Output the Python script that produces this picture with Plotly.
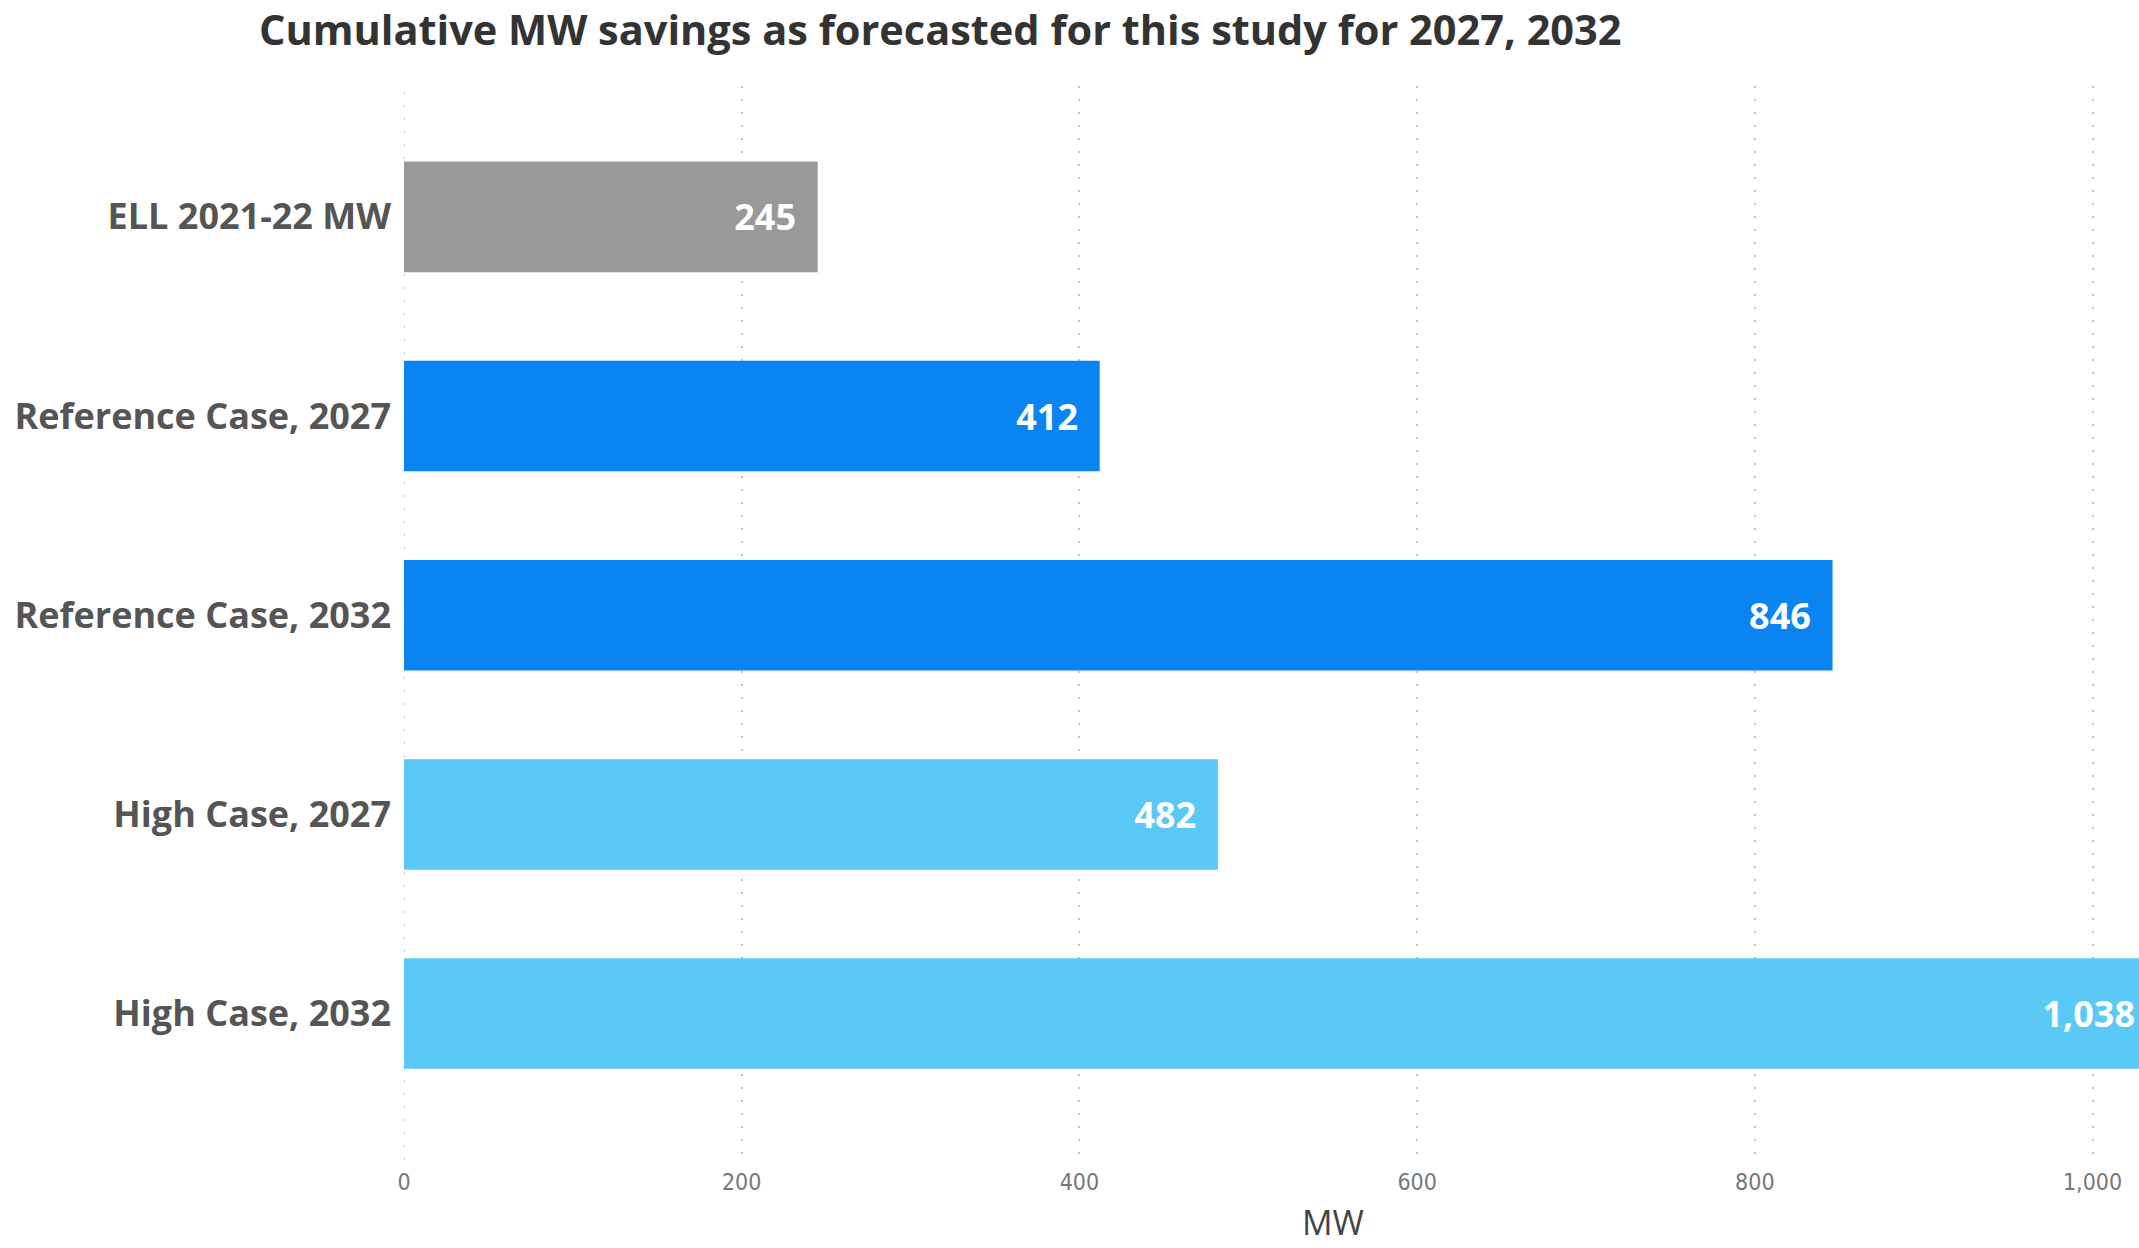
import plotly.graph_objects as go

# Savings cases and their cumulative MW values
categories = [
    "ELL 2021-22 MW",
    "Reference Case, 2027",
    "Reference Case, 2032",
    "High Case, 2027",
    "High Case, 2032",
]
mw_values = [245, 412, 846, 482, 1038]
bar_colors = ["#999999", "#0984F1", "#0984F1", "#5BC9F5", "#5BC9F5"]
x_ticks = [0, 200, 400, 600, 800, 1000]
x_tick_labels = ["0", "200", "400", "600", "800", "1,000"]
x_axis_title = "MW"

W, H = 2139, 1248
label_font = "'Open Sans', Lato, sans-serif"
narrow_font = "'Liberation Sans Narrow', 'DejaVu Sans Condensed', sans-serif"
grid_color = "#c4c4c4"
grid_dash = "2px,11px"

fig = go.Figure(
    go.Bar(
        x=mw_values,
        y=categories,
        orientation="h",
        marker=dict(color=bar_colors, line=dict(width=0)),
        texttemplate="<b>%{x:,.0f}</b>\u00a0\u00a0",
        textposition="inside",
        insidetextanchor="end",
        textangle=0,
        insidetextfont=dict(family=label_font, size=36, color="white"),
        cliponaxis=True,
        hoverinfo="skip",
    )
)

fig.update_layout(
    width=W,
    height=H,
    margin=dict(l=404, r=0, t=86, b=88),
    paper_bgcolor="white",
    plot_bgcolor="white",
    bargap=0.445,
    showlegend=False,
    title=dict(
        text="<b>Cumulative MW savings as forecasted for this study for 2027, 2032</b>",
        x=259 / W,
        xref="container",
        xanchor="left",
        y=1 - 30 / H,
        yref="container",
        yanchor="middle",
        font=dict(family=label_font, size=41.5, color="#333333"),
    ),
)

# Dotted reference line along the zero value, matching the gridlines
fig.add_shape(
    type="line",
    x0=x_ticks[0],
    x1=x_ticks[0],
    xref="x",
    y0=0,
    y1=1,
    yref="paper",
    layer="below",
    line=dict(color=grid_color, width=2, dash=grid_dash),
)

# Axis title sits at the centre of the full value scale, which runs past the right edge
fig.add_annotation(
    text=x_axis_title,
    x=0.5354,
    xref="paper",
    xanchor="center",
    y=-0.058,
    yref="paper",
    yanchor="middle",
    showarrow=False,
    font=dict(family=label_font, size=34, color="#444444"),
)

fig.update_xaxes(
    range=[0, 1027.5],
    tickvals=x_ticks,
    ticktext=x_tick_labels,
    showgrid=True,
    gridcolor=grid_color,
    griddash=grid_dash,
    gridwidth=2,
    zeroline=False,
    showline=False,
    ticks="",
    ticklabelstandoff=6,
    tickfont=dict(family=narrow_font, size=23, color="#777777"),
)

fig.update_yaxes(
    type="category",
    categoryorder="array",
    categoryarray=categories,
    range=[4.735, -0.657],
    showgrid=False,
    zeroline=False,
    showline=False,
    ticks="",
    ticklabelstandoff=12,
    tickfont=dict(family=label_font, size=36, color="#555555", weight="bold"),
)

fig.write_html("out.html")
